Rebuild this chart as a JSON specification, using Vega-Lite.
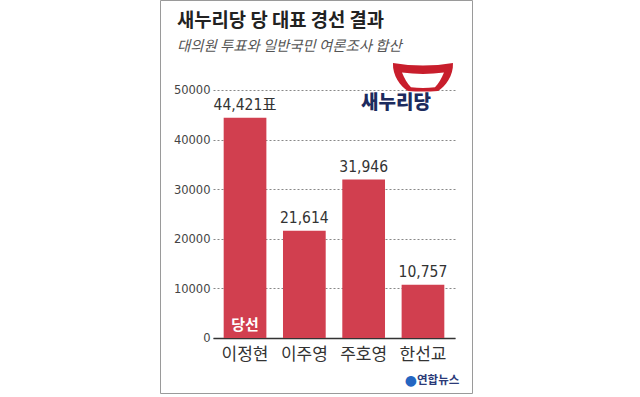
{
  "$schema": "https://vega.github.io/schema/vega-lite/v6.json",
  "width": 312,
  "height": 393,
  "autosize": {"type": "none"},
  "padding": {"left": 160, "top": 0, "right": 168, "bottom": 4},
  "background": "white",
  "config": {
    "view": {"stroke": "#9a9a9a", "strokeWidth": 1},
    "font": "Noto Sans CJK KR"
  },
  "title": {
    "text": "새누리당 당 대표 경선 결과",
    "subtitle": "대의원 투표와 일반국민 여론조사 합산",
    "anchor": "start",
    "frame": "group",
    "offset": -53,
    "dx": 17,
    "font": "Noto Sans CJK KR",
    "fontSize": 18.8,
    "fontWeight": "bold",
    "color": "#222222",
    "subtitleFont": "Noto Sans CJK KR",
    "subtitleFontSize": 14.4,
    "subtitleFontStyle": "italic",
    "subtitleColor": "#555555",
    "subtitlePadding": 9
  },
  "datasets": {
    "bars": [
      {"name": "이정현", "v": 44421, "label": "44,421표"},
      {"name": "이주영", "v": 21614, "label": "21,614"},
      {"name": "주호영", "v": 31946, "label": "31,946"},
      {"name": "한선교", "v": 10757, "label": "10,757"}
    ],
    "win": [{"name": "이정현", "v": 2700, "text": "당선"}],
    "logo": [{"name": "한선교", "v": 52600}],
    "logotext": [{"name": "한선교", "v": 47380, "text": "새누리당"}],
    "icon": [{"name": "한선교", "v": -8670, "text": "●"}],
    "source": [{"name": "한선교", "v": -8670, "text": "연합뉴스"}]
  },
  "encoding": {
    "x": {
      "field": "name",
      "type": "nominal",
      "scale": {
        "domain": ["이정현", "이주영", "주호영", "한선교"],
        "range": [53, 295],
        "paddingInner": 0.28,
        "paddingOuter": 0.18
      },
      "axis": {
        "title": null,
        "orient": "bottom",
        "offset": -55,
        "domainColor": "#333333",
        "domainWidth": 1.5,
        "ticks": false,
        "tickSize": 0,
        "labelPadding": 8,
        "labelFont": "Noto Sans CJK KR",
        "labelFontSize": 17,
        "labelColor": "#333333",
        "labelAngle": 0
      }
    },
    "y": {
      "field": "v",
      "type": "quantitative",
      "scale": {"domain": [-11089, 68145], "nice": false, "zero": false},
      "axis": {
        "title": null,
        "orient": "left",
        "offset": -53,
        "values": [0, 10000, 20000, 30000, 40000, 50000],
        "domain": false,
        "ticks": false,
        "tickSize": 0,
        "labelPadding": 3,
        "labelFont": "DejaVu Sans Condensed, sans-serif",
        "labelFontSize": 12.8,
        "labelColor": "#444444",
        "format": "d",
        "grid": true,
        "gridColor": "#888888",
        "gridDash": [2, 2],
        "gridWidth": 1
      }
    }
  },
  "layer": [
    {
      "data": {"name": "bars"},
      "mark": {"type": "bar", "color": "#d13f4f"}
    },
    {
      "data": {"name": "bars"},
      "mark": {
        "type": "text",
        "baseline": "middle",
        "align": "center",
        "dy": -13,
        "font": "DejaVu Sans Condensed, Noto Sans CJK KR, sans-serif",
        "fontSize": 15.5,
        "color": "#333333"
      },
      "encoding": {"text": {"field": "label"}}
    },
    {
      "data": {"name": "win"},
      "mark": {
        "type": "text",
        "baseline": "middle",
        "align": "center",
        "font": "Noto Sans CJK KR",
        "fontWeight": "bold",
        "fontSize": 15,
        "color": "white"
      },
      "encoding": {"text": {"field": "text"}}
    },
    {
      "data": {"name": "logo"},
      "mark": {
        "type": "point",
        "filled": true,
        "color": "#c81e2c",
        "opacity": 1,
        "size": 3600,
        "shape": "M -1 -0.47 Q 0 -0.3 1 -0.47 C 1.02 -0.05 0.75 0.32 0.5 0.46 Q 0 0.5 -0.5 0.46 C -0.75 0.32 -1.02 -0.05 -1 -0.47 Z M -0.7 -0.15 C -0.62 0.05 -0.52 0.22 -0.4 0.34 Q 0 0.38 0.4 0.34 C 0.52 0.22 0.62 0.05 0.7 -0.15 Q 0 -0.06 -0.7 -0.15 Z"
      }
    },
    {
      "data": {"name": "logotext"},
      "mark": {
        "type": "text",
        "baseline": "middle",
        "align": "center",
        "dx": -27,
        "font": "Noto Sans CJK KR",
        "fontWeight": 900,
        "fontSize": 19,
        "color": "#1c2b5e"
      },
      "encoding": {"text": {"field": "text"}}
    },
    {
      "data": {"name": "icon"},
      "mark": {
        "type": "text",
        "baseline": "middle",
        "align": "center",
        "dx": -12,
        "font": "DejaVu Sans",
        "fontSize": 14,
        "color": "#2466c2"
      },
      "encoding": {"text": {"field": "text"}}
    },
    {
      "data": {"name": "source"},
      "mark": {
        "type": "text",
        "baseline": "middle",
        "align": "left",
        "dx": -6,
        "font": "Noto Sans CJK KR",
        "fontWeight": "bold",
        "fontSize": 11.5,
        "color": "#2b3a78"
      },
      "encoding": {"text": {"field": "text"}}
    }
  ]
}
